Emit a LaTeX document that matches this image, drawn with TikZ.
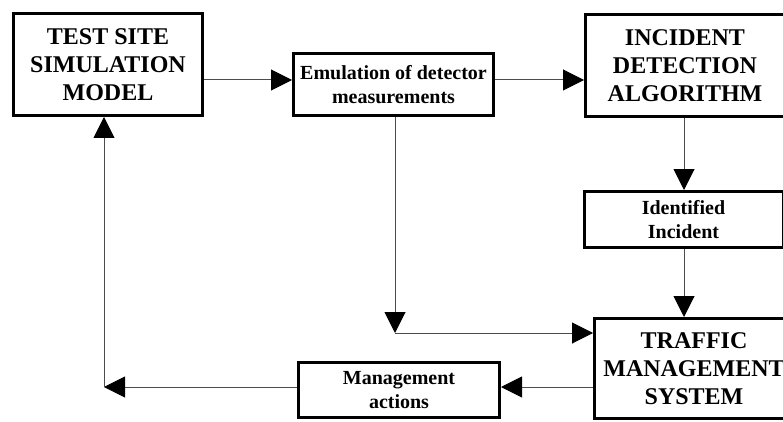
\documentclass[tikz,border=0pt]{standalone}
\usepackage{fontspec}
\setmainfont{Liberation Serif}
\usetikzlibrary{arrows.meta}
\begin{document}
\begin{tikzpicture}[x=1pt,y=-1pt,
  box/.style={draw=black, line width=3pt, rectangle, align=center, inner sep=0pt},
  big/.style={font=\fontsize{24}{28}\selectfont\bfseries},
  small/.style={font=\fontsize{20}{23.5}\selectfont\bfseries},
  conn/.style={draw=black!70, line width=1pt, -{Triangle[length=21pt,width=21pt,color=black]}},
  plain/.style={draw=black!70, line width=1pt}]
\clip (0,0) rectangle (783,422);
\fill[white] (0,0) rectangle (783,422);
\node[box,big,minimum width=189pt,minimum height=102pt] (tss) at (108,64.5) {TEST SITE\\SIMULATION\\MODEL};
\node[box,small,minimum width=200pt,minimum height=62pt] (emul) at (393.5,84.5) {Emulation of detector\\measurements};
\node[box,big,minimum width=199pt,minimum height=102pt] (ida) at (685,65.5) {INCIDENT\\DETECTION\\ALGORITHM};
\node[box,small,minimum width=199pt,minimum height=56pt] (idi) at (683.5,219.5) {Identified\\Incident};
\node[box,big,minimum width=199pt,minimum height=100pt] (tms) at (694,368.5) {TRAFFIC\\MANAGEMENT\\SYSTEM};
\node[box,small,minimum width=201pt,minimum height=55pt] (mgmt) at (399,390) {Management\\actions};
\coordinate (r1) at (0,80);
\coordinate (v1) at (684,0);
\coordinate (c1) at (395,333);
\coordinate (r3) at (0,387);
\coordinate (c2) at (104,387);
\draw[conn] (tss.east |- r1) -- (emul.west |- r1);
\draw[conn] (emul.east |- r1) -- (ida.west |- r1);
\draw[conn] (ida.south -| v1) -- (idi.north -| v1);
\draw[conn] (idi.south -| v1) -- (tms.north -| v1);
\draw[conn] (emul.south -| c1) -- (c1);
\draw[conn] (c1) -- (tms.west |- c1);
\draw[conn] (tms.west |- r3) -- (mgmt.east |- r3);
\draw[conn] (mgmt.west |- c2) -- (c2);
\draw[conn] (c2) -- (tss.south -| c2);
\end{tikzpicture}
\end{document}
